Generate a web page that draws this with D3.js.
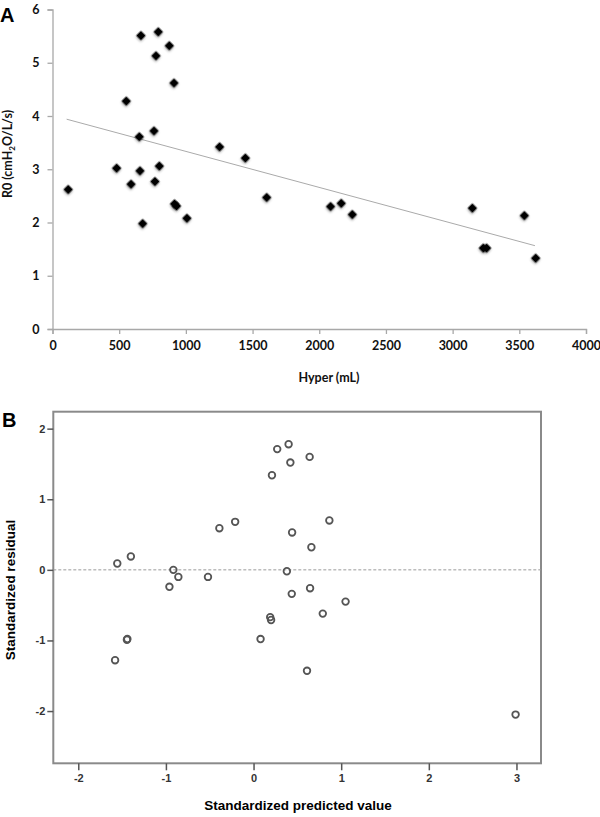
<!DOCTYPE html>
<html>
<head>
<meta charset="utf-8">
<script src="https://cdn.jsdelivr.net/npm/d3@7"></script>
<style>
  html, body { margin: 0; padding: 0; background: #fff; }
  svg { display: block; }
</style>
</head>
<body>
<svg id="chart" width="600" height="817"></svg>
<script>
// ---------- Panel A data: Hyper (mL) vs R0 ----------
const hyperML = [118, 663, 793, 876, 776, 911, 553, 761, 651, 1253, 1446, 481, 656, 801, 589, 768, 1606,
                 676, 915, 930, 1008, 2085, 2165, 2248, 3148, 3230, 3255, 3538, 3623];
const r0Values = [2.62, 5.51, 5.58, 5.32, 5.13, 4.62, 4.28, 3.72, 3.61, 3.42, 3.21, 3.02, 2.97, 3.06, 2.72, 2.77, 2.47,
                  1.98, 2.35, 2.31, 2.08, 2.30, 2.36, 2.15, 2.27, 1.52, 1.52, 2.13, 1.33];
const trendX = [106, 3617];
const trendY = [3.94, 1.565];
const aXTicks = [0, 500, 1000, 1500, 2000, 2500, 3000, 3500, 4000];
const aYTicks = [0, 1, 2, 3, 4, 5, 6];

// ---------- Panel B data: standardized predicted vs residual ----------
const predValues = [-1.555, -1.40, -0.915, -0.858, -0.96, -0.52, -0.39, -0.21, 0.21, 0.27, 0.40, 0.42, 0.44, 0.38,
                    0.436, 0.19, 0.20, 0.08, -1.44, -1.445, -1.58, 0.64, 0.865, 0.66, 0.645, 1.05, 0.79, 0.61, 2.99];
const residValues = [0.09, 0.19, 0.00, -0.10, -0.24, -0.10, 0.59, 0.68, 1.34, 1.71, 1.78, 1.52, 0.53, -0.02,
                     -0.34, -0.67, -0.71, -0.98, -0.98, -0.99, -1.28, 1.60, 0.70, 0.32, -0.26, -0.45, -0.62, -1.43, -2.05];
const bXTicks = [-2, -1, 0, 1, 2, 3];
const bYTicks = [-2, -1, 0, 1, 2];

const svg = d3.select("#chart");
const plainFmt = d => String(d);

// ===================== Panel A =====================
const ax = d3.scaleLinear().domain([0, 4000]).range([52.5, 586]);
const ay = d3.scaleLinear().domain([0, 6]).range([329, 9.5]);
const gA = svg.append("g");

const defs = svg.append("defs");
const f = defs.append("filter").attr("id", "shadow").attr("x", "-50%").attr("y", "-50%").attr("width", "200%").attr("height", "200%");
f.append("feDropShadow").attr("dx", 0.8).attr("dy", 1.2).attr("stdDeviation", 1.2).attr("flood-color", "#000").attr("flood-opacity", 0.35);

const aFont = "Lato, 'Open Sans', 'Liberation Sans', sans-serif";

// Y axis A
const yAxisA = d3.axisLeft(ay).tickValues(aYTicks).tickSize(5).tickPadding(8).tickFormat(plainFmt);
const gyA = gA.append("g").attr("transform", `translate(${ax(0)},0)`).call(yAxisA);
gyA.select(".domain").attr("stroke", "#a8a8a8").attr("stroke-width", 1.3);
gyA.selectAll(".tick line").attr("stroke", "#a8a8a8").attr("stroke-width", 1.3);
gyA.selectAll(".tick text").attr("font-family", aFont).attr("font-weight", "bold").attr("font-size", 12.5).attr("fill", "#111");

// X axis A
const xAxisA = d3.axisBottom(ax).tickValues(aXTicks).tickSize(5).tickPadding(7).tickFormat(plainFmt);
const gxA = gA.append("g").attr("transform", `translate(0,${ay(0)})`).call(xAxisA);
gxA.select(".domain").attr("stroke", "#a8a8a8").attr("stroke-width", 1.3);
gxA.selectAll(".tick line").attr("stroke", "#a8a8a8").attr("stroke-width", 1.3);
gxA.selectAll(".tick text").attr("font-family", aFont).attr("font-weight", "bold").attr("font-size", 12.5).attr("fill", "#111");

// Trend line
gA.append("line")
  .attr("x1", ax(trendX[0])).attr("y1", ay(trendY[0]))
  .attr("x2", ax(trendX[1])).attr("y2", ay(trendY[1]))
  .attr("stroke", "#aaa").attr("stroke-width", 1);

// Diamonds
const diamond = d3.symbol().type(d3.symbolSquare).size(46);
gA.append("g").selectAll("path").data(hyperML.map((x, i) => [x, r0Values[i]])).join("path")
  .attr("d", diamond)
  .attr("transform", d => `translate(${ax(d[0])},${ay(d[1])}) rotate(45)`)
  .attr("fill", "#000")
  .attr("filter", "url(#shadow)");

// Axis titles A
gA.append("text").attr("x", 329).attr("y", 382).attr("text-anchor", "middle")
  .attr("font-family", aFont).attr("font-weight", "bold").attr("font-size", 12.5).attr("fill", "#111")
  .text("Hyper (mL)");

const yTitleA = gA.append("text").attr("transform", "translate(12,154) rotate(-90)").attr("text-anchor", "middle")
  .attr("font-family", aFont).attr("font-weight", "bold").attr("font-size", 12.5).attr("fill", "#111");
yTitleA.append("tspan").text("R0 (cmH");
yTitleA.append("tspan").attr("font-size", 8).attr("dy", 3).text("2");
yTitleA.append("tspan").attr("dy", -3).text("O/L/s)");

// Panel letter A
svg.append("text").attr("x", 0).attr("y", 22).attr("font-family", "'Liberation Sans', Arial, sans-serif")
  .attr("font-weight", "bold").attr("font-size", 20).attr("fill", "#000").text("A");

// ===================== Panel B =====================
const bx = d3.scaleLinear().domain([-2.285, 3.28]).range([53.3, 541]);
const by = d3.scaleLinear().domain([-2.74, 2.24]).range([763.3, 411.7]);
const gB = svg.append("g");
const bFont = "'Liberation Sans', Arial, sans-serif";

// Frame
gB.append("rect").attr("x", bx.range()[0]).attr("y", by.range()[1])
  .attr("width", bx.range()[1] - bx.range()[0]).attr("height", by.range()[0] - by.range()[1])
  .attr("fill", "none").attr("stroke", "#8a8a8a").attr("stroke-width", 2);

// Zero reference line (dashed)
gB.append("line").attr("x1", bx.range()[0]).attr("x2", bx.range()[1])
  .attr("y1", by(0)).attr("y2", by(0))
  .attr("stroke", "#9a9a9a").attr("stroke-width", 1).attr("stroke-dasharray", "3,2");

// Y axis B
const yAxisB = d3.axisLeft(by).tickValues(bYTicks).tickSize(6).tickPadding(2).tickFormat(plainFmt);
const gyB = gB.append("g").attr("transform", `translate(${bx.range()[0]},0)`).call(yAxisB);
gyB.select(".domain").remove();
gyB.selectAll(".tick line").attr("stroke", "#555").attr("stroke-width", 1.5);
gyB.selectAll(".tick text").attr("font-family", bFont).attr("font-weight", "bold").attr("font-size", 11).attr("fill", "#333");

// X axis B
const xAxisB = d3.axisBottom(bx).tickValues(bXTicks).tickSize(7).tickPadding(4).tickFormat(plainFmt);
const gxB = gB.append("g").attr("transform", `translate(0,${by.range()[0]})`).call(xAxisB);
gxB.select(".domain").remove();
gxB.selectAll(".tick line").attr("stroke", "#555").attr("stroke-width", 1.5);
gxB.selectAll(".tick text").attr("font-family", bFont).attr("font-weight", "bold").attr("font-size", 11).attr("fill", "#333");

// Circles
gB.append("g").selectAll("circle").data(predValues.map((x, i) => [x, residValues[i]])).join("circle")
  .attr("cx", d => bx(d[0])).attr("cy", d => by(d[1])).attr("r", 3.3)
  .attr("fill", "none").attr("stroke", "#555").attr("stroke-width", 1.8);

// Axis titles B
gB.append("text").attr("x", 298).attr("y", 810).attr("text-anchor", "middle")
  .attr("font-family", bFont).attr("font-weight", "bold").attr("font-size", 13.5).attr("fill", "#000")
  .text("Standardized predicted value");
gB.append("text").attr("transform", "translate(15,590) rotate(-90)").attr("text-anchor", "middle")
  .attr("font-family", bFont).attr("font-weight", "bold").attr("font-size", 13.5).attr("fill", "#000")
  .text("Standardized residual");

// Panel letter B
svg.append("text").attr("x", 2).attr("y", 427).attr("font-family", bFont)
  .attr("font-weight", "bold").attr("font-size", 20).attr("fill", "#000").text("B");
</script>
</body>
</html>
